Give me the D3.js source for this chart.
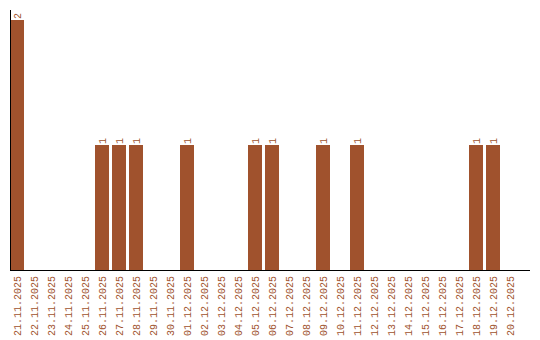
<!DOCTYPE html>
<html><head><meta charset="utf-8">
<script src="https://cdn.jsdelivr.net/npm/d3@7"></script>
<style>body{margin:0;background:#fff}svg{display:block}</style>
</head><body>
<script>
const dates = ["21.11.2025","22.11.2025","23.11.2025","24.11.2025","25.11.2025","26.11.2025","27.11.2025","28.11.2025","29.11.2025","30.11.2025","01.12.2025","02.12.2025","03.12.2025","04.12.2025","05.12.2025","06.12.2025","07.12.2025","08.12.2025","09.12.2025","10.12.2025","11.12.2025","12.12.2025","13.12.2025","14.12.2025","15.12.2025","16.12.2025","17.12.2025","18.12.2025","19.12.2025","20.12.2025"];
const counts = [2,0,0,0,0,1,1,1,0,0,1,0,0,0,1,1,0,0,1,0,1,0,0,0,0,0,0,1,1,0];

const W = 540, H = 340;
const color = "#a0522d";
const font = "Liberation Mono, monospace";
const svg = d3.select("body").append("svg").attr("width", W).attr("height", H);

const x = d3.scaleBand().domain(dates).range([10, 517]).paddingInner(3/17).paddingOuter(0);
const y = d3.scaleLinear().domain([0, 2]).range([270, 20]);

const data = dates.map((d,i)=>({d, v:counts[i]})).filter(o=>o.v>0);

svg.append("g").selectAll("rect").data(data)
  .join("rect")
  .attr("x", o => x(o.d)).attr("width", x.bandwidth())
  .attr("y", o => y(o.v)).attr("height", o => y(0) - y(o.v))
  .attr("fill", color);

svg.append("g").selectAll("text").data(data)
  .join("text")
  .attr("transform", o => `translate(${x(o.d)+x.bandwidth()/2+3.5},${y(o.v)-1}) rotate(-90)`)
  .attr("font-family", font).attr("font-size", 10)
  .attr("fill", color)
  .text(o => o.v);

svg.append("g").selectAll("text").data(dates).join("text")
  .attr("transform", d => `translate(${x(d)+x.bandwidth()/2+3.5},276) rotate(-90)`)
  .attr("text-anchor", "end")
  .attr("font-family", font).attr("font-size", 10)
  .attr("fill", color)
  .text(d => d);

svg.append("line").attr("x1", 10).attr("x2", 530).attr("y1", 270.5).attr("y2", 270.5).attr("stroke", "#000");
svg.append("line").attr("x1", 10.5).attr("x2", 10.5).attr("y1", 10).attr("y2", 270).attr("stroke", "#000");
</script>
</body></html>
